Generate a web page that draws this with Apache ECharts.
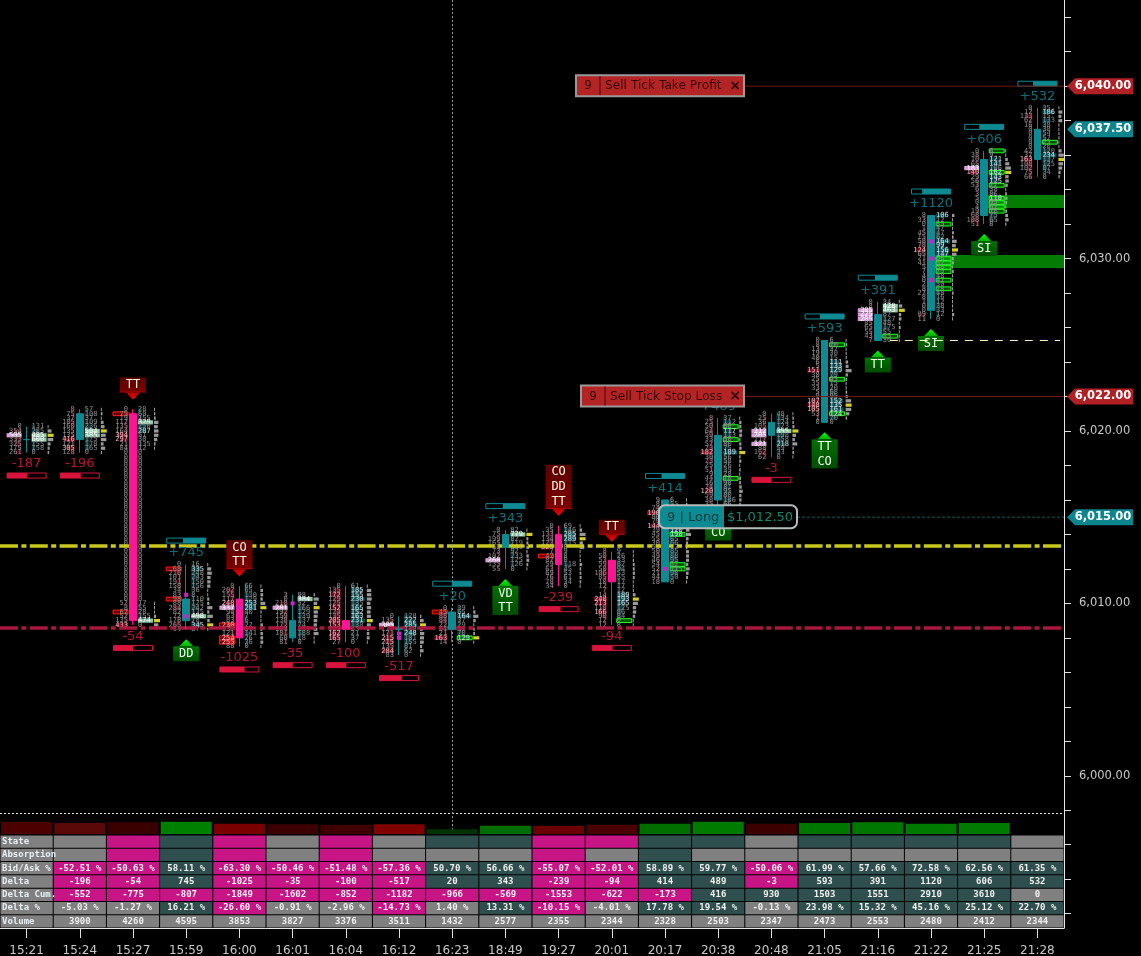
<!DOCTYPE html>
<html><head><meta charset="utf-8">
<style>html,body{margin:0;padding:0;background:#000;overflow:hidden}#c{width:1141px;height:956px}</style>
<script src="https://cdn.jsdelivr.net/npm/echarts@6/dist/echarts.min.js"></script>
</head><body><div id="c"></div>
<script>
// ---------- data ----------
const times = ['15:21','15:24','15:27','15:59','16:00','16:01','16:04','16:12','16:23','18:49','19:27','20:01','20:17','20:38','20:48','21:05','21:16','21:22','21:25','21:28'];
const opens  = [6019.5,6019.5,6021,6009,6010.25,6008,6009,6008.5,6008.5,6013.25,6014,6012.5,6011.25,6016,6019.75,6020.5,6025.25,6027,6032.5,6035.75];
const closes = [6019.5,6021,6009,6010.25,6008,6009,6008.5,6008.5,6009.5,6014,6012.25,6011.25,6016,6019.75,6020.5,6025.25,6026.75,6032.5,6035.75,6037.5];
const lows   = [6018.75,6018.75,6008.75,6008.5,6007.5,6007.75,6007.75,6007,6007.75,6012,6011,6008.75,6011.25,6015.5,6018.5,6020.5,6025.25,6026.5,6032,6034.75];
const highs  = [6020.25,6021.25,6021.25,6012.25,6011,6010.5,6011,6009.25,6009.75,6014.25,6014.5,6013,6016,6020.75,6021,6025.25,6027.5,6032.5,6036.25,6038.75];
const delta  = [-187,-196,-54,745,-1025,-35,-100,-517,20,343,-239,-94,414,489,-3,593,391,1120,606,532];
const bidAsk = [-51.5,-52.51,-50.63,58.11,-63.30,-50.46,-51.48,-57.36,50.70,56.66,-55.07,-52.01,58.89,59.77,-50.06,61.99,57.66,72.58,62.56,61.35];
const deltaCum = [null,-552,-775,-807,-1849,-1602,-852,-1182,-966,-569,-1553,-622,-173,416,930,1503,1551,2910,3610,0];
const deltaPct = [null,-5.03,-1.27,16.21,-26.60,-0.91,-2.96,-14.73,1.40,13.31,-10.15,-4.01,17.78,19.54,-0.13,23.98,15.32,45.16,25.12,22.70];
const volume   = [null,3900,4260,4595,3853,3827,3376,3511,1432,2577,2355,2344,2328,2503,2347,2473,2553,2480,2412,2344];
const stateRow      = ['l','g','p','t','p','g','p','g','t','t','p','p','t','t','g','t','t','t','t','g'];
const absorptionRow = ['l','g','p','t','p','g','p','g','g','g','p','g','t','g','g','g','g','g','g','g'];
const deltaPctRow   = ['l','g','g','t','p','g','g','p','g','t','p','g','t','t','g','t','t','t','t','t'];
const rowNames = ['State','Absorption','Bid/Ask %','Delta','Delta Cum.','Delta %','Volume'];
const histValues = [12,11,11.7,12.3,10.3,9.7,9,9.7,4.7,8.3,8,9.3,10.3,12.3,10.3,11,11.7,10.3,11,0];
const histColors = ['#4d0000','#5a0808','#3a0000','#008000','#7a0000','#3d0000','#400000','#800000','#003300','#006e00','#6a0000','#4a0000','#006f00','#007b00','#3c0000','#007800','#007800','#007a00','#007a00','#000'];

const bids = [
[0,354,505,333,325,175,261],
[8,75,37,185,160,135,135,416,121,305,128],
[0,75,19,117,135,164,394,297,21,84,0,0,0,0,0,0,0,0,0,0,0,0,0,0,0,0,0,0,0,0,0,0,0,0,0,0,0,0,0,0,0,0,0,0,0,52,8,67,52,135,433],
[0,68,216,101,191,158,34,83,98,88,284,82,72,178,265,34],
[0,202,155,117,248,337,94,63,83,230,137,121,254,255,88],
[3,0,218,281,192,159,138,172,124,181,60,81],
[0,135,172,129,125,152,124,135,205,153,125,162,165,27],
[0,135,305,127,171,215,215,135,284,83],
[0,45,88,84,22,24,21,163,14],
[0,75,199,165,58,73,102,268,135,55],
[0,35,133,134,123,323,7,47,87,59,63,69,76,78,34],
[8,50,53,59,50,106,85,10,12,7,14,248,213,118,166,90,12,12],
[9,8,74,196,80,79,144,39,45,55,30,55,50,49,46,54,52,21,44,18],
[8,25,50,64,59,33,57,73,182,30,73,25,51,9,44,16,74,120,59,38,35,12],
[0,25,36,105,312,205,117,321,88,162,62],
[0,8,13,19,40,6,5,151,30,25,35,33,5,9,107,148,105,53,1,0],
[0,8,305,225,205,85,65,55,43,7],
[8,33,0,1,45,15,58,78,124,65,21,41,5,7,4,0,2,8,27,8,1,0,0,89,11],
[0,38,10,65,183,140,29,56,53,6,3,5,0,4,19,68,108,51],
[0,12,133,62,16,0,0,0,0,0,42,37,163,108,102,75,66]
];
const asks = [
[131,285,485,600,155,158,0],
[57,108,37,109,236,504,385,175,178,165,0],
[28,60,155,329,250,287,51,30,135,12,0,0,0,0,0,0,0,0,0,0,0,0,0,0,0,0,0,0,0,0,0,0,0,0,0,0,0,0,0,0,0,0,0,0,0,17,55,28,155,474,0],
[16,335,248,243,150,156,36,8,110,125,242,135,498,78,345,87],
[66,65,130,129,253,281,40,7,6,27,57,141,26,36,0],
[98,384,52,166,129,139,137,74,157,188,18,0],
[61,185,155,230,135,165,152,163,231,138,55,21,37,0],
[128,222,285,148,248,181,155,81,62,0],
[39,65,164,37,29,52,70,129,0],
[82,779,82,119,340,92,233,125,126,0],
[69,146,285,289,115,0,9,8,0,118,45,53,61,34,0],
[9,26,33,82,94,53,55,17,17,12,189,193,165,125,86,84,0,8],
[6,55,80,81,90,60,75,120,190,65,66,12,85,88,95,52,115,98,50,0],
[37,112,86,117,113,50,80,75,189,56,58,26,39,28,70,98,81,95,80,106,66,40],
[48,134,124,123,355,198,158,218,59,33,0],
[6,70,37,30,15,111,133,129,79,45,15,20,68,95,152,135,161,124,70,0],
[34,428,463,87,127,48,175,55,55,30],
[106,12,35,47,47,62,164,99,156,147,68,52,38,75,48,42,30,28,48,16,12,38,33,12,0],
[6,9,121,141,106,162,143,125,77,38,86,110,95,62,78,75,65,8],
[35,186,15,133,38,38,54,57,25,20,120,234,137,125,87,34,0]
];
const paleBids = [[0,6019.75],[4,6009.75],[5,6009.75],[7,6008.75],[9,6012.5],[14,6020],[14,6019.75],[14,6019.25],[16,6027],[16,6026.75],[16,6026.5],[18,6035.25]];
const paleAsks = [[0,6019.75],[0,6019.5],[1,6020],[1,6019.75],[2,6020.5],[2,6009],[3,6009.25],[5,6010.25],[9,6014],[14,6020],[16,6027.25],[16,6027]];
const askBoxes = [[8,6008],[11,6009],[12,6014],[12,6012.25],[12,6012],[13,6020.25],[13,6019.5],[13,6017.25],[15,6025],[15,6023],[15,6021],[16,6025.5],[17,6032],[17,6030],[17,6029.75],[17,6029.5],[17,6029.25],[17,6028.75],[17,6028.25],[18,6036.25],[18,6035],[18,6034.25],[18,6033.5],[18,6033.25],[18,6033],[18,6032.75],[19,6036.75]];
const bidBoxes = [[2,6021],[2,6009.5],[3,6012],[3,6010.25],[4,6008.75],[4,6008],[4,6007.75],[8,6009.5],[10,6012.75]];
const magentaDots = [[3,6010.5],[3,6009.25],[4,6009.75],[5,6010],[7,6008.25],[7,6008],[12,6012],[17,6031],[17,6030],[17,6028.75]];
const zones = [[17,6030.21,6029.46],[18,6033.69,6032.94]];
const signals = [[2,'dn',['TT']],[4,'dn',['CO','TT']],[10,'dn',['CO','DD','TT']],[11,'dn',['TT']],[3,'up',['DD']],[9,'up',['VD','TT']],[13,'up',['CO']],[15,'up',['TT','CO']],[16,'up',['TT']],[17,'up',['SI']],[18,'up',['SI']]];
const yellowLevel = 6013.37, crimsonLevel = 6008.59, separatorLevel = 5997.83, crosshairTop = 6045, crosshairBottom = 5996.57;
const entryDashLevel = 6025.25;
const priceTags = [[6040,'6,040.00','#b02024'],[6037.5,'6,037.50','#0d858c'],[6022,'6,022.00','#b02024'],[6015,'6,015.00','#0d858c']];
const orders = [[6040,'9','Sell Tick Take Profit'],[6022,'9','Sell Tick Stop Loss']];
const longPosition = [6015,'9 | Long','$1,012.50'];
const yLabels = [6000,6010,6020,6030];
const yTicks = [5992,5994,5996,5998,6000,6002,6004,6006,6008,6010,6012,6014,6016,6018,6020,6022,6024,6026,6028,6030,6032,6034,6036,6038,6040,6042,6044];

// ---------- derived item lists ----------
const TEAL='#0d8a92', PINK='#ff1493', CRIM='#d8143c', MONO='"DejaVu Sans Mono"', SANS='"DejaVu Sans"';
const fpRows = [];
bids.forEach((col,b)=>{
  const vols = col.map((v,i)=>v+asks[b][i]);
  const maxV = Math.max.apply(null,vols);
  const maxSide = Math.max.apply(null,col.concat(asks[b]));
  col.forEach((v,i)=>{ fpRows.push([b,highs[b]-i*0.25,v,asks[b][i],vols[i],maxV,maxSide]); });
});
const hasBox=(list,b,p)=>list.some(e=>e[0]===b&&e[1]===p);
const cells=[];
const fmtPct=v=>v.toFixed(2)+' %';
const palette={g:'#808080',p:'#c71585',t:'#2f4f4f',l:'#808080'};
const signCol=v=>v<0?'p':(v>0?'t':'g');
times.forEach((t,c)=>{
  const rows=[
    [stateRow[c],''],[absorptionRow[c],''],
    [c?signCol(bidAsk[c]):'l',c?fmtPct(bidAsk[c]):''],
    [c?signCol(delta[c]):'l',c?String(delta[c]):''],
    [c?signCol(deltaCum[c]):'l',c?String(deltaCum[c]):''],
    [deltaPctRow[c],c?fmtPct(deltaPct[c]):''],
    ['g',c?String(volume[c]):'']
  ];
  rows.forEach((r,i)=>cells.push({c,i,fill:palette[r[0]],text:r[1]}));
});

const chart = echarts.init(document.getElementById('c'),null,{renderer:'canvas'});
const catX=(i)=>({type:'category',data:times,gridIndex:i,show:false,boundaryGap:true});
const grad=(a,b)=>({type:'linear',x:0,y:0,x2:0,y2:1,colorStops:[{offset:0,color:a},{offset:1,color:b}]});

chart.setOption({
  backgroundColor:'#000',animation:false,
  grid:[
    {left:0,top:0,width:1064,height:928,outerBoundsMode:'none'},
    {left:0,top:835,width:1064,height:93,outerBoundsMode:'none'},
    {left:0,top:813,width:1064,height:21,outerBoundsMode:'none'}
  ],
  xAxis:[
    {type:'category',data:times,gridIndex:0,boundaryGap:true,
     axisLine:{lineStyle:{color:'#e8e8e8'}},
     axisTick:{show:true,length:10,alignWithLabel:true,lineStyle:{color:'#e0e0e0'}},
     axisLabel:{color:'#c8c8c8',fontFamily:'DejaVu Sans',fontSize:12,margin:17,interval:0}},
    catX(1),catX(2)
  ],
  yAxis:[
    {type:'value',gridIndex:0,position:'right',min:5991.17,max:6045,scale:true,
     axisLine:{show:true,lineStyle:{color:'#e8e8e8'}},
     axisTick:{show:true,length:7,customValues:yTicks,lineStyle:{color:'#e0e0e0'}},
     axisLabel:{customValues:yLabels,color:'#c8c8c8',fontFamily:'DejaVu Sans',fontSize:11.5,margin:15,
       formatter:v=>v.toLocaleString('en-US',{minimumFractionDigits:2})},
     splitLine:{show:false}},
    {type:'category',gridIndex:1,data:rowNames,inverse:true,show:false},
    {type:'value',gridIndex:2,min:0,max:21,show:false,splitLine:{show:false}}
  ],
  series:[
    // imbalance zones
    {type:'custom',z:2,xAxisIndex:0,yAxisIndex:0,silent:true,data:zones,encode:{x:0,y:1},
     renderItem(p,api){
       const a=api.coord([api.value(0),api.value(1)]), b=api.coord([api.value(0),api.value(2)]);
       const right=p.coordSys.x+p.coordSys.width;
       return {type:'rect',shape:{x:a[0]+4,y:a[1],width:right-a[0]-4,height:b[1]-a[1]},style:{fill:'#047c04'}};
     }},
    // footprint rows
    {type:'custom',z:2,xAxisIndex:0,yAxisIndex:0,silent:true,progressive:0,data:fpRows,encode:{x:0,y:1},
     renderItem(p,api){
       const b=api.value(0),pr=api.value(1),bid=api.value(2),ask=api.value(3),vol=api.value(4),maxV=api.value(5),maxS=api.value(6);
       const o=api.coord([b,pr]),cx=o[0],y=o[1];
       const ch=[];
       const hiB=hasBox(paleBids,b,pr), hiA=hasBox(paleAsks,b,pr);
       const rb=bid/maxS, ra=ask/maxS;
       const bw=hiB?15:Math.max(bid?3:0,rb*13), aw=hiA?15:Math.max(ask?3:0,ra*14);
       if(bid) ch.push({type:'rect',shape:{x:cx-5-bw,y:y-2.1,width:bw,height:4.2},style:{fill:hiB?'#d8a0d8':'rgba(150,20,50,'+(0.25+0.55*rb)+')'}});
       if(ask) ch.push({type:'rect',shape:{x:cx+5,y:y-2.1,width:aw,height:4.2},style:{fill:hiA?'#8fc8a8':'rgba(15,105,115,'+(0.3+0.5*ra)+')'}});
       const vw=vol/maxV*6;
       if(vol) ch.push({type:'rect',shape:{x:cx+21,y:y-1.6,width:vol===maxV?6:Math.max(1,vw),height:3.2},style:{fill:vol===maxV?'#d8d020':'#9a9a9a'}});
       if(hasBox(bidBoxes,b,pr)) ch.push({type:'rect',shape:{x:cx-20,y:y-1.9,width:15,height:3.8},style:{fill:'rgba(255,0,0,.45)',stroke:'#ff1a1a',lineWidth:1}});
       if(hasBox(askBoxes,b,pr)) ch.push({type:'rect',shape:{x:cx+5,y:y-1.9,width:15,height:3.8},style:{fill:'rgba(0,170,0,.5)',stroke:'#22ff22',lineWidth:1}});
       const tb=hiB?'#fff':(rb>0.6?'#e8b8b8':'#8c8c8c');
       const ta=hiA?'#fff':(ra>0.6?'#d0e0e0':'#8c8c8c');
       ch.push({type:'text',z2:5,style:{x:cx-5,y:y,text:String(bid),fill:tb,align:'right',verticalAlign:'middle',font:'7px '+MONO}});
       ch.push({type:'text',z2:5,style:{x:cx+5,y:y,text:String(ask),fill:ta,align:'left',verticalAlign:'middle',font:'7px '+MONO}});
       return {type:'group',children:ch};
     }},
    // candles with level lines
    {type:'candlestick',z:4,xAxisIndex:0,yAxisIndex:0,barWidth:7,silent:true,
     data:times.map((t,i)=>[opens[i],closes[i],lows[i],highs[i]]),
     itemStyle:{color:TEAL,color0:PINK,borderColor:TEAL,borderColor0:PINK,borderColorDoji:TEAL,borderWidth:1},
     markLine:{silent:true,symbol:'none',z:3,label:{show:false},animation:false,
       data:[
        {yAxis:yellowLevel,lineStyle:{color:'#c8c81e',width:3.5,type:[18,3.4,5,3.4]}},
        {yAxis:crimsonLevel,lineStyle:{color:'#a8183e',width:3.5,type:[18,3.4,5,3.4]}},
        {yAxis:separatorLevel,lineStyle:{color:'#e8e8e8',width:1,type:[2,2]}},
        [{xAxis:'16:23',yAxis:crosshairTop,lineStyle:{color:'#9a9a9a',width:1,type:[2,2]}},{xAxis:'16:23',yAxis:crosshairBottom}]
       ]}},
    // magenta dots
    {type:'custom',z:5,xAxisIndex:0,yAxisIndex:0,silent:true,data:magentaDots,encode:{x:0,y:1},
     renderItem(p,api){const o=api.coord([api.value(0),api.value(1)]);
       return {type:'rect',shape:{x:o[0]-2,y:o[1]-2,width:4,height:4},style:{fill:'#cc22cc'}};}},
    // delta text and ratio bars
    {type:'custom',z:5,xAxisIndex:0,yAxisIndex:0,silent:true,
     data:times.map((t,i)=>[i,delta[i]>0?highs[i]:lows[i],delta[i],Math.abs(bidAsk[i])]),encode:{x:0,y:1},
     renderItem(p,api){
       const d=api.value(2),pct=api.value(3),o=api.coord([api.value(0),api.value(1)]),up=d>0;
       const col=up?'#0d7078':'#b81434',bcol=up?TEAL:CRIM;
       const ty=o[1]+(up?-11.5:11.5), by=o[1]+(up?-24:23);
       const w=39,fw=w*pct/100,x0=o[0]-19.5;
       return {type:'group',children:[
         {type:'text',style:{x:o[0],y:ty,text:(up?'+':'')+d,fill:col,align:'center',verticalAlign:'middle',font:'13px '+SANS}},
         {type:'rect',shape:{x:x0,y:by-2.5,width:w,height:5},style:{fill:'none',stroke:bcol,lineWidth:1}},
         {type:'rect',shape:{x:up?x0+w-fw:x0,y:by-2.5,width:fw,height:5},style:{fill:bcol}}
       ]};
     }},
    // signal tags
    {type:'custom',z:6,xAxisIndex:0,yAxisIndex:0,silent:true,
     data:signals.map(s=>[s[0],s[1]==='dn'?highs[s[0]]:lows[s[0]]]),encode:{x:0,y:1},
     renderItem(p,api){
       const s=signals[p.dataIndex],o=api.coord([api.value(0),api.value(1)]),cx=o[0],n=s[2].length;
       const h=15*n-1+(n>1?0:1),ch=[];
       if(s[1]==='dn'){
         const tip=o[1]-10,bot=tip-7,top=bot-h;
         ch.push({type:'rect',shape:{x:cx-13,y:top,width:26,height:h},style:{fill:grad('#5c0000','#7a0000')}});
         ch.push({type:'rect',shape:{x:cx-13,y:bot-1,width:26,height:1},style:{fill:'#a80000'}});
         ch.push({type:'polygon',shape:{points:[[cx-7,bot],[cx+7,bot],[cx,tip]]},style:{fill:grad('#b00000','#ff0000')}});
         s[2].forEach((t,i)=>ch.push({type:'text',style:{x:cx,y:top+7.5+i*14.7,text:t,fill:'#fff5e0',align:'center',verticalAlign:'middle',font:'12px '+MONO}}));
       }else{
         const tip=o[1]+10,top=tip+7;
         ch.push({type:'polygon',shape:{points:[[cx-7,top],[cx+7,top],[cx,tip]]},style:{fill:grad('#00ff00','#00b000')}});
         ch.push({type:'rect',shape:{x:cx-13,y:top,width:26,height:h},style:{fill:grad('#007000','#004d00')}});
         s[2].forEach((t,i)=>ch.push({type:'text',style:{x:cx,y:top+7.5+i*14.7,text:t,fill:'#f0fff0',align:'center',verticalAlign:'middle',font:'12px '+MONO}}));
       }
       return {type:'group',children:ch};
     }},
    // order lines and labels
    {type:'custom',z:7,xAxisIndex:0,yAxisIndex:0,silent:true,clip:false,data:orders.map(o=>[17,o[0]]),encode:{x:0,y:1},
     renderItem(p,api){
       const od=orders[p.dataIndex],y=api.coord([0,api.value(1)])[1];
       const right=p.coordSys.x+p.coordSys.width, x1=744, x0=p.dataIndex===0?576:581, h=21;
       const sep=x0+24;
       const ink='#3a0808';
       return {type:'group',children:[
         {type:'line',shape:{x1:x1,y1:y,x2:right,y2:y},style:{stroke:'#701818',lineWidth:1}},
         {type:'rect',shape:{x:x0,y:y-11,width:x1-x0,height:h},style:{fill:'#b42424',stroke:'#9a9a9a',lineWidth:2}},
         {type:'line',shape:{x1:sep,y1:y-10,x2:sep,y2:y+9},style:{stroke:'#4a0808',lineWidth:1}},
         {type:'text',style:{x:x0+12,y:y,text:od[1],fill:ink,align:'center',verticalAlign:'middle',font:'12px '+SANS}},
         {type:'text',style:{x:x0+29,y:y,text:od[2],fill:ink,align:'left',verticalAlign:'middle',font:'12.2px '+SANS}},
         {type:'text',style:{x:735,y:y,text:'×',fill:'#2a0505',align:'center',verticalAlign:'middle',font:'bold 14px '+SANS}}
       ]};
     }},
    {type:'custom',z:7,xAxisIndex:0,yAxisIndex:0,silent:true,clip:false,data:[[16,entryDashLevel]],encode:{x:0,y:1},
     renderItem(p,api){
       const o=api.coord([api.value(0),api.value(1)]),right=p.coordSys.x+p.coordSys.width;
       return {type:'line',shape:{x1:o[0]+12,y1:o[1],x2:right-4,y2:o[1]},style:{stroke:'#ffffc8',lineWidth:1,lineDash:[8,7]}};
     }},
    {type:'custom',z:7,xAxisIndex:0,yAxisIndex:0,silent:true,clip:false,data:[[13,longPosition[0]]],encode:{x:0,y:1},
     renderItem(p,api){
       const y=api.coord([0,api.value(1)])[1],right=p.coordSys.x+p.coordSys.width,x0=659,x1=797,mid=724,top=y-12,h=23;
       return {type:'group',children:[
         {type:'line',shape:{x1:x1,y1:y,x2:right,y2:y},style:{stroke:'#0c5a5e',lineWidth:1,lineDash:[3,2]}},
         {type:'rect',shape:{x:x0,y:top,width:x1-x0,height:h,r:6},style:{fill:'#000'}},
         {type:'rect',shape:{x:x0,y:top,width:mid-x0,height:h,r:[6,0,0,6]},style:{fill:'#0d8a92'}},
         {type:'rect',shape:{x:x0,y:top,width:x1-x0,height:h,r:6},style:{fill:'none',stroke:'#b4bcbc',lineWidth:2}},
         {type:'text',style:{x:667,y:y,text:longPosition[1],fill:'#063a3e',align:'left',verticalAlign:'middle',font:'13px '+SANS}},
         {type:'text',style:{x:760,y:y,text:longPosition[2],fill:'#0c8a6c',align:'center',verticalAlign:'middle',font:'13px '+SANS}}
       ]};
     }},
    // right-hand price tags
    {type:'custom',z:8,xAxisIndex:0,yAxisIndex:0,silent:true,clip:false,data:priceTags.map(t=>[0,t[0]]),encode:{x:0,y:1},
     renderItem(p,api){
       const t=priceTags[p.dataIndex],y=api.coord([0,api.value(1)])[1],r=p.coordSys.x+p.coordSys.width;
       const a=r+3,b=r+11,e=r+69;
       return {type:'group',children:[
         {type:'polygon',shape:{points:[[a,y],[b,y-8],[e,y-8],[e,y+8],[b,y+8]]},style:{fill:t[2]}},
         {type:'text',style:{x:r+39,y:y,text:t[1],fill:'#fff',align:'center',verticalAlign:'middle',font:'bold 11.5px '+SANS}}
       ]};
     }},
    // data table
    {type:'custom',z:3,xAxisIndex:1,yAxisIndex:1,silent:true,clip:false,data:cells.map(c=>[c.c,c.i]),encode:{x:0,y:1},
     renderItem(p,api){
       const c=cells[p.dataIndex],o=api.coord([c.c,c.i]),s=api.size([1,1]);
       const ch=[{type:'rect',shape:{x:o[0]-s[0]/2+.5,y:o[1]-s[1]/2+.5,width:s[0]-1,height:s[1]-1},style:{fill:c.fill}}];
       if(c.c===0) ch.push({type:'text',z2:9,style:{x:2,y:o[1],text:rowNames[c.i],fill:'#e8f0f4',align:'left',verticalAlign:'middle',font:'bold 9px '+MONO}});
       else if(c.text) ch.push({type:'text',z2:9,style:{x:o[0],y:o[1],text:c.text,fill:'#f0f0f0',align:'center',verticalAlign:'middle',font:'bold 9px '+MONO}});
       return {type:'group',z2:c.c===0?10:1,children:ch};
     }},
    // histogram pane
    {type:'bar',xAxisIndex:2,yAxisIndex:2,barWidth:51,silent:true,z:3,
     data:histValues.map((v,i)=>({value:v,itemStyle:{color:histColors[i]}}))}
  ]
});
</script></body></html>
